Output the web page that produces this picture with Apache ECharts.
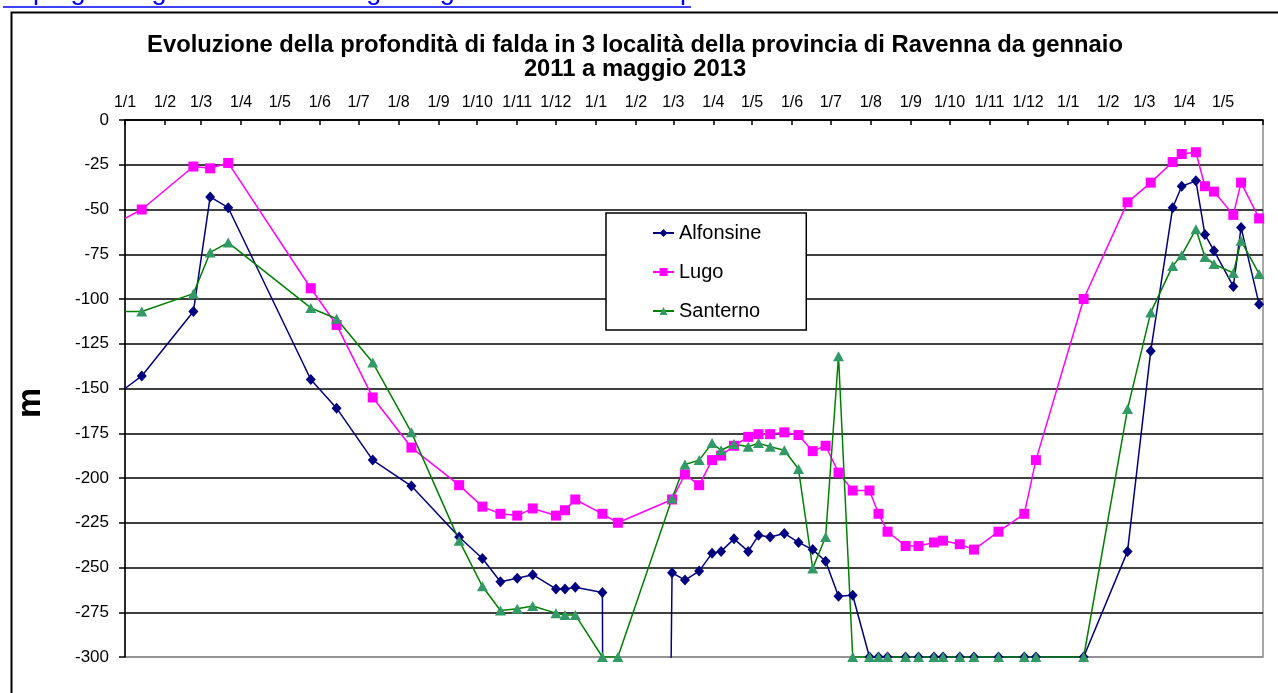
<!DOCTYPE html>
<html>
<head>
<meta charset="utf-8">
<script src="https://cdn.jsdelivr.net/npm/echarts@6/dist/echarts.min.js"></script>
<style>
html,body{margin:0;padding:0;background:#fff;}
#chart{width:1278px;height:693px;}
</style>
</head>
<body>
<div id="chart"></div>
<script>
// ---- data ----
const dates = [
  '2011-01-01','2011-01-14','2011-02-23','2011-03-08','2011-03-22','2011-05-25','2011-06-14',
  '2011-07-12','2011-08-11','2011-09-17','2011-10-05','2011-10-19','2011-11-01','2011-11-13',
  '2011-12-01','2011-12-08','2011-12-16','2012-01-06','2012-01-18','2012-02-29','2012-03-10',
  '2012-03-21','2012-03-31','2012-04-07','2012-04-17','2012-04-28','2012-05-06','2012-05-15',
  '2012-05-26','2012-06-06','2012-06-17','2012-06-27','2012-07-07','2012-07-18','2012-07-31',
  '2012-08-07','2012-08-14','2012-08-28','2012-09-07','2012-09-19','2012-09-26','2012-10-09',
  '2012-10-20','2012-11-08','2012-11-28','2012-12-07','2013-01-13','2013-02-16','2013-03-06',
  '2013-03-23','2013-03-30','2013-04-10','2013-04-17','2013-04-24','2013-05-09','2013-05-15',
  '2013-05-29'
];
// Alfonsine: 2012-01-18 reading lies far below the -300 floor (off chart)
const alfonsine = [
  -150,-143,-107,-43,-49,-145,-161,
  -190,-204.5,-233,-245,-258,-256,-254,
  -262,-262,-261,-264,-3000,-253,-257,
  -252,-242,-241,-234,-241,-232,-233,
  -231,-236,-240,-246.5,-266,-265.5,-300,
  -300,-300,-300,-300,-300,-300,-300,
  -300,-300,-300,-300,-300,-241,-129,
  -49,-37,-34,-64,-73,-93,-60,
  -103
];
const lugo = [
  -55,-50,-26,-27,-24,-94,-114.5,
  -155,-183,-204,-216,-220,-221,-217,
  -221,-218,-212,-220,-225,-212,-198,
  -204,-190,-187.5,-182,-177,-175.5,-175.5,
  -174.5,-176,-185,-182,-197,-207,-207,
  -220,-230,-238,-238,-236,-235,-237,
  -240,-230,-220,-190,-100,-46,-35,
  -23.5,-19,-18,-37,-40,-53,-35,
  -55
];
const santerno = [
  -107,-107,-97,-74,-68.5,-105,-111,
  -135.5,-174.5,-235,-260.5,-274,-273,-271.5,
  -275.5,-276.5,-276.5,-300,-300,-211.5,-192.5,
  -190,-180.5,-184.5,-181,-182.5,-180.5,-182.5,
  -184.5,-195,-250.5,-233,-132,-300,-300,
  -300,-300,-300,-300,-300,-300,-300,
  -300,-300,-300,-300,-300,-161.5,-107.5,
  -81.5,-75.5,-61,-76.5,-80.5,-85.5,-67.5,
  -86
];
const seriesNames = ['Alfonsine','Lugo','Santerno'];
const tickLabels = [
  '1/1','1/2','1/3','1/4','1/5','1/6','1/7','1/8','1/9','1/10','1/11','1/12',
  '1/1','1/2','1/3','1/4','1/5','1/6','1/7','1/8','1/9','1/10','1/11','1/12',
  '1/1','1/2','1/3','1/4','1/5'
];
const yTicks = [0,-25,-50,-75,-100,-125,-150,-175,-200,-225,-250,-275,-300];
const titleText = 'Evoluzione della profondità di falda in 3 località della provincia di Ravenna da gennaio\n2011 a maggio 2013';
const linkText = 'http://gias.regione.emilia-romagna.it/gias/falda/default.asp';

// ---- helpers ----
const FONT = '"Liberation Sans", Arial, sans-serif';
function ts(s){ const p = s.split('-').map(Number); return Date.UTC(p[0], p[1]-1, p[2]); }
const xMin = Date.UTC(2011,0,1), xMax = Date.UTC(2013,5,1);
const tickValues = [];
for (let i = 0; i <= tickLabels.length; i++) tickValues.push(Date.UTC(2011, i, 1));
const labelValues = tickValues.slice(0, tickLabels.length);
const labelMap = new Map(labelValues.map((v,i)=>[v, tickLabels[i]]));
// first entry is where each line enters the plot at its left edge: no marker there
function pairs(vals){
  return dates.map((d,i)=> i === 0 ? { value: [ts(d), vals[i]], symbol: 'none' } : [ts(d), vals[i]]);
}

const splitColors = yTicks.slice().reverse().map((v,i)=> i===0 ? '#8c8c8c' : '#000');

const chart = echarts.init(document.getElementById('chart'), null, {renderer:'canvas'});
chart.setOption({
  animation: false,
  backgroundColor: '#fff',
  textStyle: { fontFamily: FONT },
  title: {
    text: titleText,
    left: 630, top: 29, textAlign: 'center',
    textStyle: { fontFamily: FONT, fontSize: 23.8, fontWeight: 'bold', color: '#000', lineHeight: 23.5 }
  },
  legend: {
    orient: 'vertical', left: 606, top: 213,
    padding: [10, 45, 9, 46], itemGap: 19, itemWidth: 21, itemHeight: 10,
    borderColor: '#000', borderWidth: 1.5, backgroundColor: '#fff',
    textStyle: { fontFamily: FONT, fontSize: 20, color: '#000' },
    data: seriesNames
  },
  grid: { left: 125, right: 15, top: 120, bottom: 36, show: true, borderColor: '#8c8c8c', borderWidth: 1.5, backgroundColor: 'transparent' },
  xAxis: {
    type: 'value', position: 'top', min: xMin, max: xMax,
    axisLine: { show: true, onZero: false, lineStyle: { color: '#000', width: 1.5 } },
    axisTick: { show: true, inside: true, length: 5, customValues: tickValues, lineStyle: { color: '#000', width: 1.5 } },
    axisLabel: { customValues: labelValues, formatter: (v) => labelMap.get(v) || '', fontFamily: FONT, fontSize: 16, color: '#000', margin: 9, hideOverlap: false },
    splitLine: { show: false }
  },
  yAxis: {
    type: 'value', min: -300, max: 0, interval: 25,
    axisLine: { show: true, lineStyle: { color: '#000', width: 1.5 } },
    axisTick: { show: true, length: 6, lineStyle: { color: '#000', width: 1.5 } },
    axisLabel: { fontFamily: FONT, fontSize: 17, color: '#000', margin: 16 },
    splitLine: { show: true, lineStyle: { color: splitColors, width: 1.5 } }
  },
  graphic: [
    { type: 'rect', shape: { x: 11.5, y: 12.5, width: 1400, height: 800 }, style: { fill: 'none', stroke: '#000', lineWidth: 2 }, z: 100 },
    { type: 'text', x: 3, y: 5, style: { text: linkText, font: '27px ' + FONT, fill: '#0000FF', textAlign: 'left', textVerticalAlign: 'bottom' }, z: 100 },
    { type: 'line', shape: { x1: 3, y1: 7, x2: 691, y2: 7 }, style: { stroke: '#0000FF', lineWidth: 1.5 }, z: 100 },
    { type: 'text', x: 31, y: 403, rotation: Math.PI/2, style: { text: 'm', font: 'bold 34px ' + FONT, fill: '#000', textAlign: 'center', textVerticalAlign: 'middle' }, z: 100 }
  ],
  series: [
    {
      name: 'Alfonsine', type: 'line', data: pairs(alfonsine), clip: true, showAllSymbol: true,
      symbol: 'diamond', symbolSize: [10, 11],
      itemStyle: { color: '#000080' }, lineStyle: { color: '#000080', width: 1.5 }
    },
    {
      name: 'Lugo', type: 'line', data: pairs(lugo), clip: true, showAllSymbol: true,
      symbol: 'rect', symbolSize: 10,
      itemStyle: { color: '#FF00FF' }, lineStyle: { color: '#FF00FF', width: 1.5 }
    },
    {
      name: 'Santerno', type: 'line', data: pairs(santerno), clip: true, showAllSymbol: true,
      symbol: 'triangle', symbolSize: [11, 10],
      itemStyle: { color: '#339966' }, lineStyle: { color: '#008000', width: 1.5 }
    }
  ]
});
</script>
</body>
</html>
